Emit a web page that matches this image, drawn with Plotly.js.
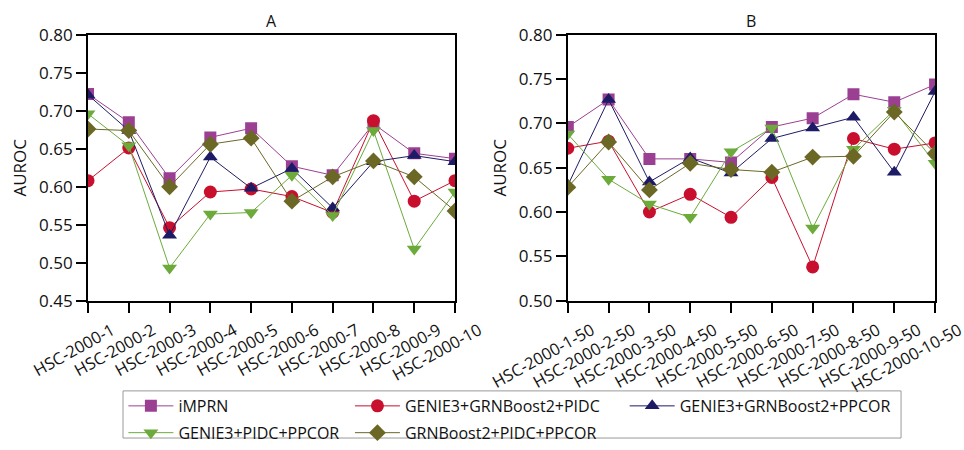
<!DOCTYPE html>
<html>
<head>
<meta charset="utf-8">
<script src="https://cdn.plot.ly/plotly-3.0.1.min.js"></script>
<style>body{margin:0;background:#fff}</style>
</head>
<body>
<div id="chart" style="width:964px;height:450px"></div>
<script>
const catsA = ["HSC-2000-1","HSC-2000-2","HSC-2000-3","HSC-2000-4","HSC-2000-5","HSC-2000-6","HSC-2000-7","HSC-2000-8","HSC-2000-9","HSC-2000-10"];
const catsB = ["HSC-2000-1-50","HSC-2000-2-50","HSC-2000-3-50","HSC-2000-4-50","HSC-2000-5-50","HSC-2000-6-50","HSC-2000-7-50","HSC-2000-8-50","HSC-2000-9-50","HSC-2000-10-50"];
const seriesNames = ["iMPRN","GENIE3+GRNBoost2+PIDC","GENIE3+GRNBoost2+PPCOR","GENIE3+PIDC+PPCOR","GRNBoost2+PIDC+PPCOR"];

const imprnA  = [0.722,0.685,0.611,0.665,0.677,0.627,0.615,0.683,0.644,0.637];
const gg_pidcA = [0.608,0.651,0.546,0.593,0.597,0.587,0.566,0.687,0.581,0.608];
const gg_ppcorA = [0.721,0.674,0.536,0.639,0.598,0.624,0.572,0.633,0.641,0.633];
const g_pp_A = [0.696,0.654,0.493,0.564,0.566,0.615,0.562,0.674,0.518,0.593];
const grn_pp_A = [0.676,0.674,0.600,0.656,0.664,0.581,0.613,0.634,0.613,0.568];

const imprnB  = [0.696,0.727,0.660,0.660,0.656,0.696,0.706,0.733,0.724,0.744];
const gg_pidcB = [0.672,0.680,0.600,0.620,0.594,0.639,0.538,0.683,0.671,0.678];
const gg_ppcorB = [0.630,0.727,0.634,0.661,0.644,0.683,0.695,0.707,0.645,0.736];
const g_pp_B = [0.688,0.637,0.609,0.594,0.668,0.695,0.582,0.671,0.715,0.655];
const grn_pp_B = [0.628,0.679,0.625,0.655,0.648,0.645,0.662,0.663,0.713,0.666];

const colors = ["#9b3f93","#c8102e","#1e1b66","#6caa3c","#6b6826"];
const symbols = ["square","circle","triangle-up","triangle-down","diamond"];
const sizes = [12,13,13,13,13];
const legendFor = ["legend","legend2","legend3","legend","legend2"];

const dataA = [imprnA, gg_pidcA, gg_ppcorA, g_pp_A, grn_pp_A];
const dataB = [imprnB, gg_pidcB, gg_ppcorB, g_pp_B, grn_pp_B];

const traces = [];
dataA.forEach((vals, i) => {
  traces.push({
    x: catsA, y: vals, type: "scatter", mode: "lines+markers", name: seriesNames[i],
    xaxis: "x", yaxis: "y", legend: legendFor[i], legendgroup: "g" + i,
    line: {color: colors[i], width: 1},
    marker: {color: colors[i], symbol: symbols[i], size: sizes[i], line: {width: 0}}
  });
});
dataB.forEach((vals, i) => {
  traces.push({
    x: catsB, y: vals, type: "scatter", mode: "lines+markers", name: seriesNames[i],
    xaxis: "x2", yaxis: "y2", showlegend: false, legendgroup: "g" + i,
    line: {color: colors[i], width: 1},
    marker: {color: colors[i], symbol: symbols[i], size: sizes[i], line: {width: 0}}
  });
});

const fontFam = "Open Sans, sans-serif";
const tickFont = {family: fontFam, size: 17, color: "#111"};
const xCommon = {
  type: "category", range: [0, 9], showline: true, linecolor: "#000", linewidth: 2, mirror: true,
  ticks: "outside", ticklen: 10, tickwidth: 2, tickcolor: "#000", tickangle: -29,
  ticklabelshift: 24, ticklabelstandoff: 2,
  tickfont: {family: fontFam, size: 16.5, color: "#111"}, showgrid: false, zeroline: false
};
const yCommon = {
  showline: true, linecolor: "#000", linewidth: 2, mirror: true,
  ticks: "outside", ticklen: 10, tickwidth: 2, tickcolor: "#000",
  tickfont: tickFont, showgrid: false, zeroline: false, tickformat: ".2f", dtick: 0.05,
  title: {text: "AUROC", font: {family: fontFam, size: 17, color: "#111"}, standoff: 8}
};
const legCommon = {
  orientation: "v", xanchor: "left", yanchor: "top", bgcolor: "rgba(0,0,0,0)", borderwidth: 0,
  font: {family: fontFam, size: 16, color: "#111"}, itemwidth: 45,
  traceorder: "grouped", tracegroupgap: 3
};

const layout = {
  width: 964, height: 450,
  margin: {l: 0, r: 0, t: 0, b: 0},
  paper_bgcolor: "#fff", plot_bgcolor: "#fff",
  showlegend: true,
  xaxis: Object.assign({}, xCommon, {domain: [0.0913, 0.472], anchor: "y"}),
  yaxis: Object.assign({}, yCommon, {domain: [0.32, 0.921], range: [0.45, 0.80], anchor: "x"}),
  xaxis2: Object.assign({}, xCommon, {domain: [0.589, 0.970], anchor: "y2"}),
  yaxis2: Object.assign({}, yCommon, {domain: [0.32, 0.921], range: [0.50, 0.80], anchor: "x2"}),
  legend: Object.assign({}, legCommon, {x: 0.128, y: 0.120}),
  legend2: Object.assign({}, legCommon, {x: 0.363, y: 0.120}),
  legend3: Object.assign({}, legCommon, {x: 0.648, y: 0.120}),
  annotations: [
    {text: "A", xref: "x domain", yref: "y domain", x: 0.5, y: 1, yanchor: "bottom", yshift: 1, showarrow: false, font: {family: fontFam, size: 16, color: "#111"}},
    {text: "B", xref: "x2 domain", yref: "y2 domain", x: 0.5, y: 1, yanchor: "bottom", yshift: 1, showarrow: false, font: {family: fontFam, size: 16, color: "#111"}}
  ],
  shapes: [
    {type: "rect", xref: "paper", yref: "paper", x0: 0.1276, x1: 0.9347, y0: 0.009, y1: 0.1156, line: {color: "#999", width: 1}}
  ]
};

Plotly.newPlot("chart", traces, layout, {displayModeBar: false, responsive: false});
</script>
</body>
</html>
